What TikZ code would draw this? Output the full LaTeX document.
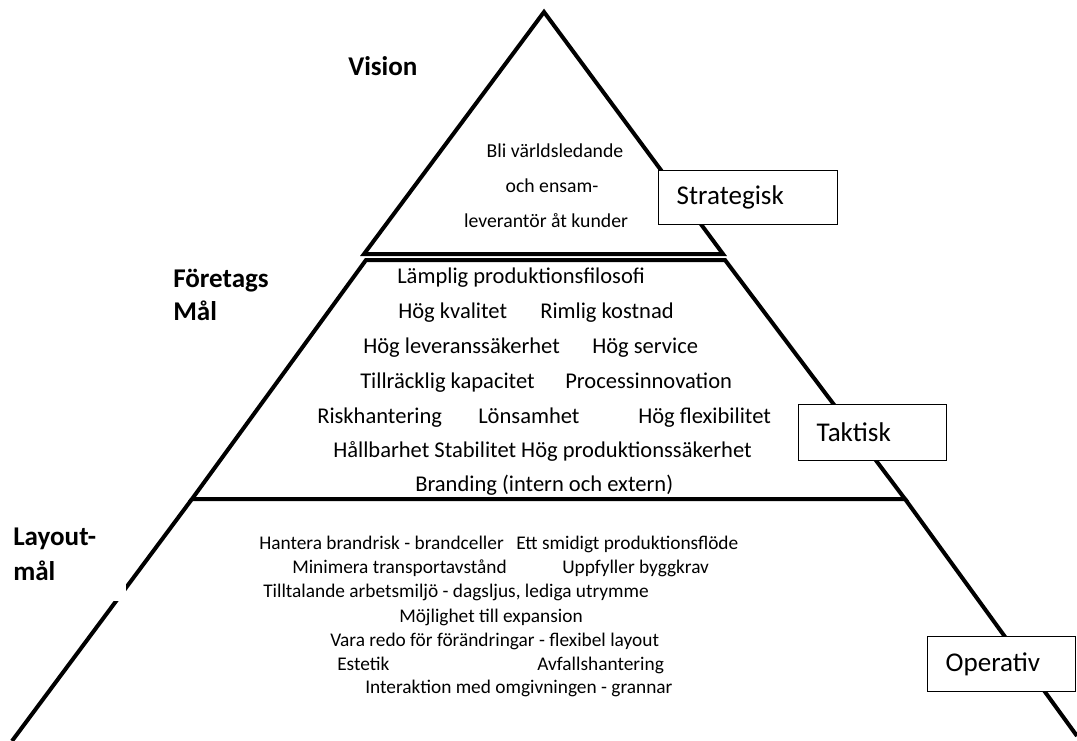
\documentclass[tikz,border=0pt]{standalone}
\usepackage{fontspec}
\setmainfont{Carlito}
\begin{document}
\begin{tikzpicture}[x=0.75pt,y=-0.75pt,
  pyr/.style={line width=3pt, line join=miter},
  topt/.style={anchor=base, inner sep=0pt, font=\fontsize{14.8}{17}\selectfont},
  midt/.style={anchor=base west, inner sep=0pt, font=\fontsize{16.9}{20}\selectfont},
  bott/.style={anchor=base west, inner sep=0pt, font=\fontsize{14.5}{17}\selectfont},
  lab/.style={anchor=base west, inner sep=0pt, font=\fontsize{20.3}{24}\selectfont\bfseries},
  levelbox/.style={draw=black, line width=1pt, fill=white, rectangle, anchor=north west,
    inner xsep=13.5pt, inner ysep=0pt, align=left, font=\fontsize{20.3}{24}\selectfont}]
\useasboundingbox (0,0) rectangle (1077,740);
% corners
\coordinate (apex) at (544,12);
\coordinate (tl) at (364,254);
\coordinate (tr) at (723,254);
\coordinate (ml) at (366,260);
\coordinate (mr) at (725,260);
\coordinate (bl) at (192,499);
\coordinate (br) at (905,499);
\coordinate (el) at (12,741);
\coordinate (er) at (1077,736);
% pyramid
\draw[pyr] (apex) -- (tl) -- (tr) -- cycle;
\draw[pyr] (ml) -- (mr) -- (br) -- (bl) -- cycle;
\draw[pyr] (bl) -- (el);
\draw[pyr] (br) -- (er);
% white patch over left edge
\fill[white] (5,505) rectangle (126,601);
% level boxes
\node[levelbox, text width=107.25pt, minimum height=40.5pt] (strat) at (658,170) {Strategisk};
\node[levelbox, text width=84pt, minimum height=42pt] (takt) at (798,404) {Taktisk};
\node[levelbox, text width=84pt, minimum height=41.25pt] (oper) at (927,636) {Operativ};
% side labels
\node[lab] (vision) at (348,75) {Vision};
\node[lab] (ftg) at (173,287) {Företags};
\node[lab] (mal) at (173,320) {Mål};
\node[lab] (lay) at (13,545) {Layout-};
\node[lab] (lmal) at (13,580) {mål};
% top text
\node[topt] (t1) at (555,157) {Bli världsledande};
\node[topt] (t2) at (552,192) {och ensam-};
\node[topt] (t3) at (546,227) {leverantör åt kunder};
% middle text
\node[midt] (m1) at (397,283) {Lämplig produktionsfilosofi};
\node[midt] (m2a) at (398,318) {Hög kvalitet};
\node[midt] (m2b) at (540,318) {Rimlig kostnad};
\node[midt] (m3a) at (363,353) {Hög leveranssäkerhet};
\node[midt] (m3b) at (592,353) {Hög service};
\node[midt] (m4a) at (360,388) {Tillräcklig kapacitet};
\node[midt] (m4b) at (565,388) {Processinnovation};
\node[midt] (m5a) at (317,423) {Riskhantering};
\node[midt] (m5b) at (478,423) {Lönsamhet};
\node[midt] (m5c) at (638,423) {Hög flexibilitet};
\node[midt] (m6) at (333,457) {Hållbarhet Stabilitet Hög produktionssäkerhet};
\node[midt] (m7) at (415,491) {Branding (intern och extern)};
% bottom text
\node[bott] (b1a) at (259,549) {Hantera brandrisk - brandceller};
\node[bott] (b1b) at (516,549) {Ett smidigt produktionsflöde};
\node[bott] (b2a) at (292,573) {Minimera transportavstånd};
\node[bott] (b2b) at (562,573) {Uppfyller byggkrav};
\node[bott] (b3) at (263,597) {Tilltalande arbetsmiljö - dagsljus, lediga utrymme};
\node[bott] (b4) at (399,622) {Möjlighet till expansion};
\node[bott] (b5) at (330,646) {Vara redo för förändringar - flexibel layout};
\node[bott] (b6a) at (337,670) {Estetik};
\node[bott] (b6b) at (537,670) {Avfallshantering};
\node[bott] (b7) at (365,693) {Interaktion med omgivningen - grannar};
\end{tikzpicture}
\end{document}
